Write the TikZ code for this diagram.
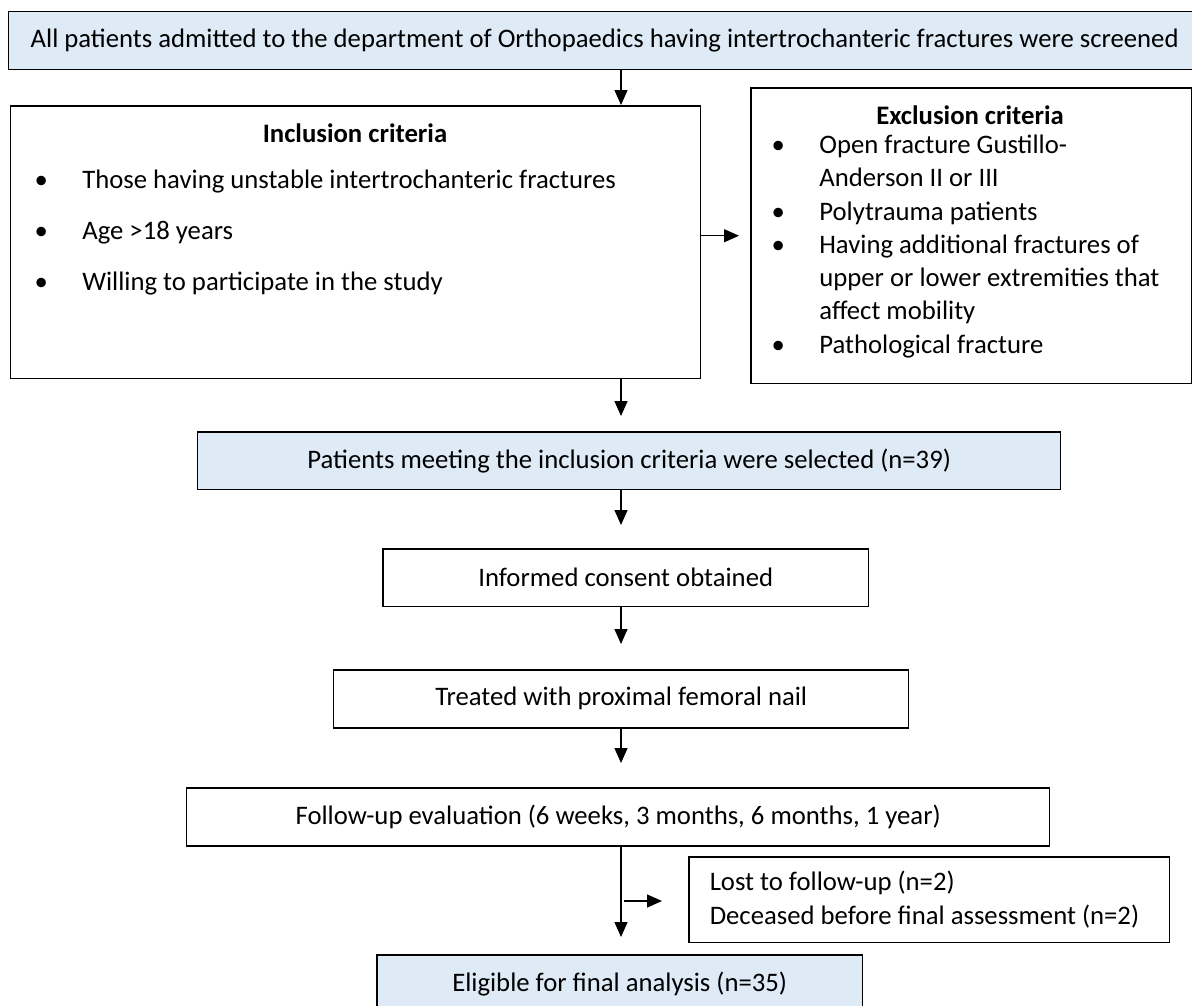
\documentclass[tikz,border=0pt]{standalone}
\usepackage{fontspec}
\setmainfont{Carlito}
\usetikzlibrary{arrows.meta}
\definecolor{paleblue}{HTML}{DEEAF6}
\newcommand{\itemdot}{\llap{\textbullet\hspace{0.69cm}}}

\begin{document}
\begin{tikzpicture}[x=0.02cm, y=-0.02cm, font=\fontsize{15.2}{18}\selectfont]
        \tikzstyle{stage}=[draw, line width=0.85pt, inner sep=0pt, anchor=north west]
        \tikzstyle{shaded}=[stage, fill=paleblue]
        \tikzstyle{flow}=[-{Triangle[length=0.3cm, width=0.26cm]}, line width=0.75pt]
        \tikzstyle{line}=[anchor=mid west, inner sep=0pt]
        % page
        \useasboundingbox (0,0) rectangle (1192,1005);
        \clip (0,0) rectangle (1192,1005);
        % Screening
        \node[shaded, minimum width=23.84cm, minimum height=1.16cm] (screen) at (8,11)
            {All patients admitted to the department of Orthopaedics having intertrochanteric fractures were screened};
        % Criteria
        \node[stage, minimum width=13.8cm, minimum height=5.46cm] (incl) at (10,105) {};
        \node (incltitle) at (355,133) {\bfseries Inclusion criteria};
        \foreach \txt [count=\i] in {Those having unstable intertrochanteric fractures, Age >18 years, Willing to participate in the study}
            \node[line] (inc\i) at (82,{133+51*\i}) {\itemdot\txt};
        \node[stage, minimum width=8.82cm, minimum height=5.92cm] (excl) at (750,87) {};
        \node (excltitle) at (970,115) {\bfseries Exclusion criteria};
        \foreach \yy/\txt in {149/\itemdot Open fracture Gustillo-, 182/Anderson II or III, 216/\itemdot Polytrauma patients,
                249/\itemdot Having additional fractures of, 282/upper or lower extremities that, 315/affect mobility,
                349/\itemdot Pathological fracture}
            \node[line] (exc\yy) at (819,\yy) {\txt};
        % Flow
        \node[shaded, minimum width=17.26cm, minimum height=1.16cm] (select) at (197,431)
            {Patients meeting the inclusion criteria were selected (n=39)};
        \node[stage, minimum width=9.72cm, minimum height=1.16cm] (consent) at (382,548) {Informed consent obtained};
        \node[stage, minimum width=11.5cm, minimum height=1.16cm] (treat) at (333,669) {Treated with proximal femoral nail};
        \node[stage, minimum width=17.26cm, minimum height=1.16cm] (follow) at (186,787)
            {Follow-up evaluation (6 weeks, 3 months, 6 months, 1 year)};
        \node[stage, minimum width=9.62cm, minimum height=1.72cm, inner xsep=0.42cm, text width=8.78cm, align=flush left,
            font=\fontsize{15.2}{19.4}\selectfont] (lost) at (688,856)
            {Lost to follow-up (n=2)\\Deceased before final assessment (n=2)};
        \node[shaded, minimum width=9.72cm, minimum height=1.16cm] (final) at (376,954) {Eligible for final analysis (n=35)};
        % Arrows
        \coordinate (spine) at (621,0);
        \coordinate (branch) at (624,901);
        \draw[flow] (screen.south -| spine) -- (incl.north -| spine);
        \draw[flow, shorten >=0.3cm] (incl.south -| spine) -- (select.north -| spine);
        \draw[flow, shorten >=0.46cm] (select.south -| spine) -- (consent.north -| spine);
        \draw[flow, shorten >=0.5cm] (consent.south -| spine) -- (treat.north -| spine);
        \draw[flow, shorten >=0.48cm] (treat.south -| spine) -- (follow.north -| spine);
        \draw[flow, shorten >=0.34cm] (follow.south -| spine) -- (final.north -| spine);
        \draw[flow, shorten >=0.22cm] (incl.east |- excl.west) -- (excl.west);
        \draw[flow, shorten >=0.52cm] (branch) -- (lost.west |- branch);
\end{tikzpicture}
\end{document}
